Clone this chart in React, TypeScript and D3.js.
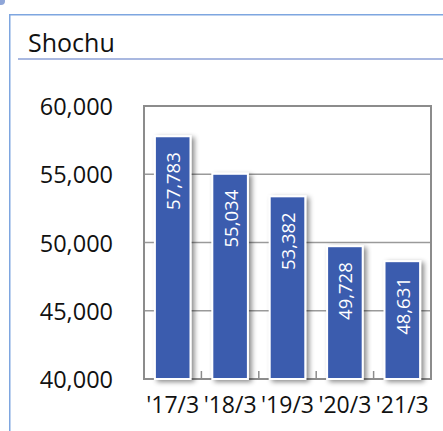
import React from "react";
import * as d3 from "d3";

const categories = ["'17/3", "'18/3", "'19/3", "'20/3", "'21/3"];
const values = [57783, 55034, 53382, 49728, 48631];
const yTicks = [40000, 45000, 50000, 55000, 60000];
const title = "Shochu";

const W = 443;
const H = 431;
const FONT = "'Open Sans', sans-serif";

export default function App() {
  const left = 144, right = 431, top = 106, bottom = 379;
  const y = d3.scaleLinear().domain([40000, 60000]).range([bottom, top]);
  const x = d3.scaleBand<string>().domain(categories).range([left, right]).paddingInner(0.38).paddingOuter(0.19);
  const fmt = d3.format(",");
  const step = x.step();
  const boundaries = categories.slice(1).map((c) => (x(c) as number) - x.paddingInner() * step / 2);

  return (
    <svg width={W} height={H} style={{ position: "absolute", left: 0, top: 0, background: "#fff" }}>
      <defs>
        <filter id="sh" x="-30%" y="-10%" width="170%" height="130%">
          <feDropShadow dx="3" dy="2" stdDeviation="2.5" floodColor="#000" floodOpacity="0.45" />
        </filter>
      </defs>
      <circle cx={1} cy={1} r={4} fill="#8FA6D8" />
      <path d={`M9.75,${H} V14.75 H${W + 2}`} fill="none" stroke="#7EA6E0" strokeWidth={1.5} />
      <text x={28} y={51.5} fontFamily={FONT} fontSize={25} fill="#111">{title}</text>
      <line x1={18} x2={W} y1={59} y2={59} stroke="#A9B8E0" strokeWidth={2} />

      {yTicks.filter((t) => t !== 40000 && t !== 60000).map((t) => (
        <line key={t} x1={left} x2={right} y1={y(t)} y2={y(t)} stroke="#9a9a9a" strokeWidth={1.5} />
      ))}
      {boundaries.map((b, i) => (
        <line key={i} x1={b} x2={b} y1={bottom} y2={bottom - 8} stroke="#8c8c8c" strokeWidth={1.5} />
      ))}
      <rect x={left} y={top} width={right - left} height={bottom - top} fill="none" stroke="#8c8c8c" strokeWidth={2} />

      {categories.map((c, i) => (
        <rect key={c} x={x(c)} y={y(values[i])} width={x.bandwidth()} height={bottom - y(values[i])}
          fill="#3B5BAE" stroke="#fff" strokeWidth={2} filter="url(#sh)" />
      ))}
      {categories.map((c, i) => {
        const cx = (x(c) as number) + x.bandwidth() / 2;
        const ty = y(values[i]) + 16;
        return (
          <text key={c} transform={`translate(${cx},${ty}) rotate(-90)`} textAnchor="end" dominantBaseline="central"
            fontFamily={FONT} fontSize={18.5} fill="#fff">{fmt(values[i])}</text>
        );
      })}

      {yTicks.map((t) => (
        <text key={t} x={113} y={y(t)} textAnchor="end" dominantBaseline="central" fontFamily={FONT} fontSize={23.5} fill="#111">{fmt(t)}</text>
      ))}
      {categories.map((c) => (
        <text key={c} x={(x(c) as number) + x.bandwidth() / 2} y={413} textAnchor="middle" fontFamily={FONT} fontSize={23} fill="#111">{c}</text>
      ))}
    </svg>
  );
}
